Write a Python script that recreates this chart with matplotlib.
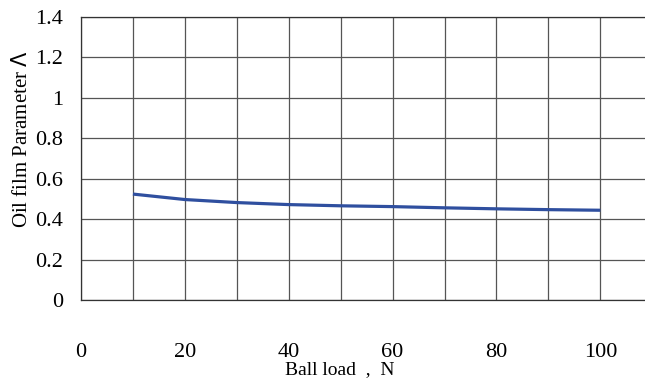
import matplotlib
matplotlib.use("Agg")
from matplotlib import pyplot as plt
import numpy as np

# ball load (N) vs oil film parameter
load = [10, 20, 30, 40, 50, 60, 70, 80, 90, 100]
lam = [0.524, 0.497, 0.482, 0.472, 0.466, 0.462, 0.456, 0.451, 0.447, 0.444]
xticks = [0, 20, 40, 60, 80, 100]
yticks = [0, 0.2, 0.4, 0.6, 0.8, 1, 1.2, 1.4]
ytick_labels = ["0", "0.2", "0.4", "0.6", "0.8", "1", "1.2", "1.4"]

plt.rcParams['font.family'] = ['Liberation Serif', 'DejaVu Serif']

fig = plt.figure(figsize=(6.45, 3.81), dpi=100)
ax = fig.add_axes([81/645, 81/381, 1 - 81/645, (300-17)/381])

ax.plot(load, lam, color='#2f4f9f', linewidth=2.3, solid_capstyle='butt')

ax.set_xlim(0, 108.6)
ax.set_ylim(0, 1.4)
ax.set_xticks(np.arange(0, 101, 10), minor=True)
ax.set_xticks(xticks)
ax.set_yticks(yticks)
ax.set_yticklabels(ytick_labels)
ax.grid(which='both', color='#555555', linewidth=0.9)
ax.set_axisbelow(True)
ax.tick_params(which='both', length=0)
ax.tick_params(axis='x', pad=31, labelsize=16)
ax.tick_params(axis='y', pad=13, labelsize=16)

ax.spines['right'].set_visible(False)
for s in ['top', 'left', 'bottom']:
    ax.spines[s].set_color('#333333')
    ax.spines[s].set_linewidth(0.9)

ax.set_xlabel("Ball load  ,  N", fontsize=14)
ax.xaxis.set_label_coords((340 - 81) / (645 - 81), -(370 - 300) / 283)
ax.xaxis.label.set_verticalalignment('center')
ax.set_ylabel(r"Oil film Parameter $\it{\Lambda}$", fontsize=15)
ax.yaxis.set_label_coords(-(81 - 22) / (645 - 81), (300 - 139) / 283)
ax.yaxis.label.set_verticalalignment('center')

fig.savefig("out.png", dpi=100)
